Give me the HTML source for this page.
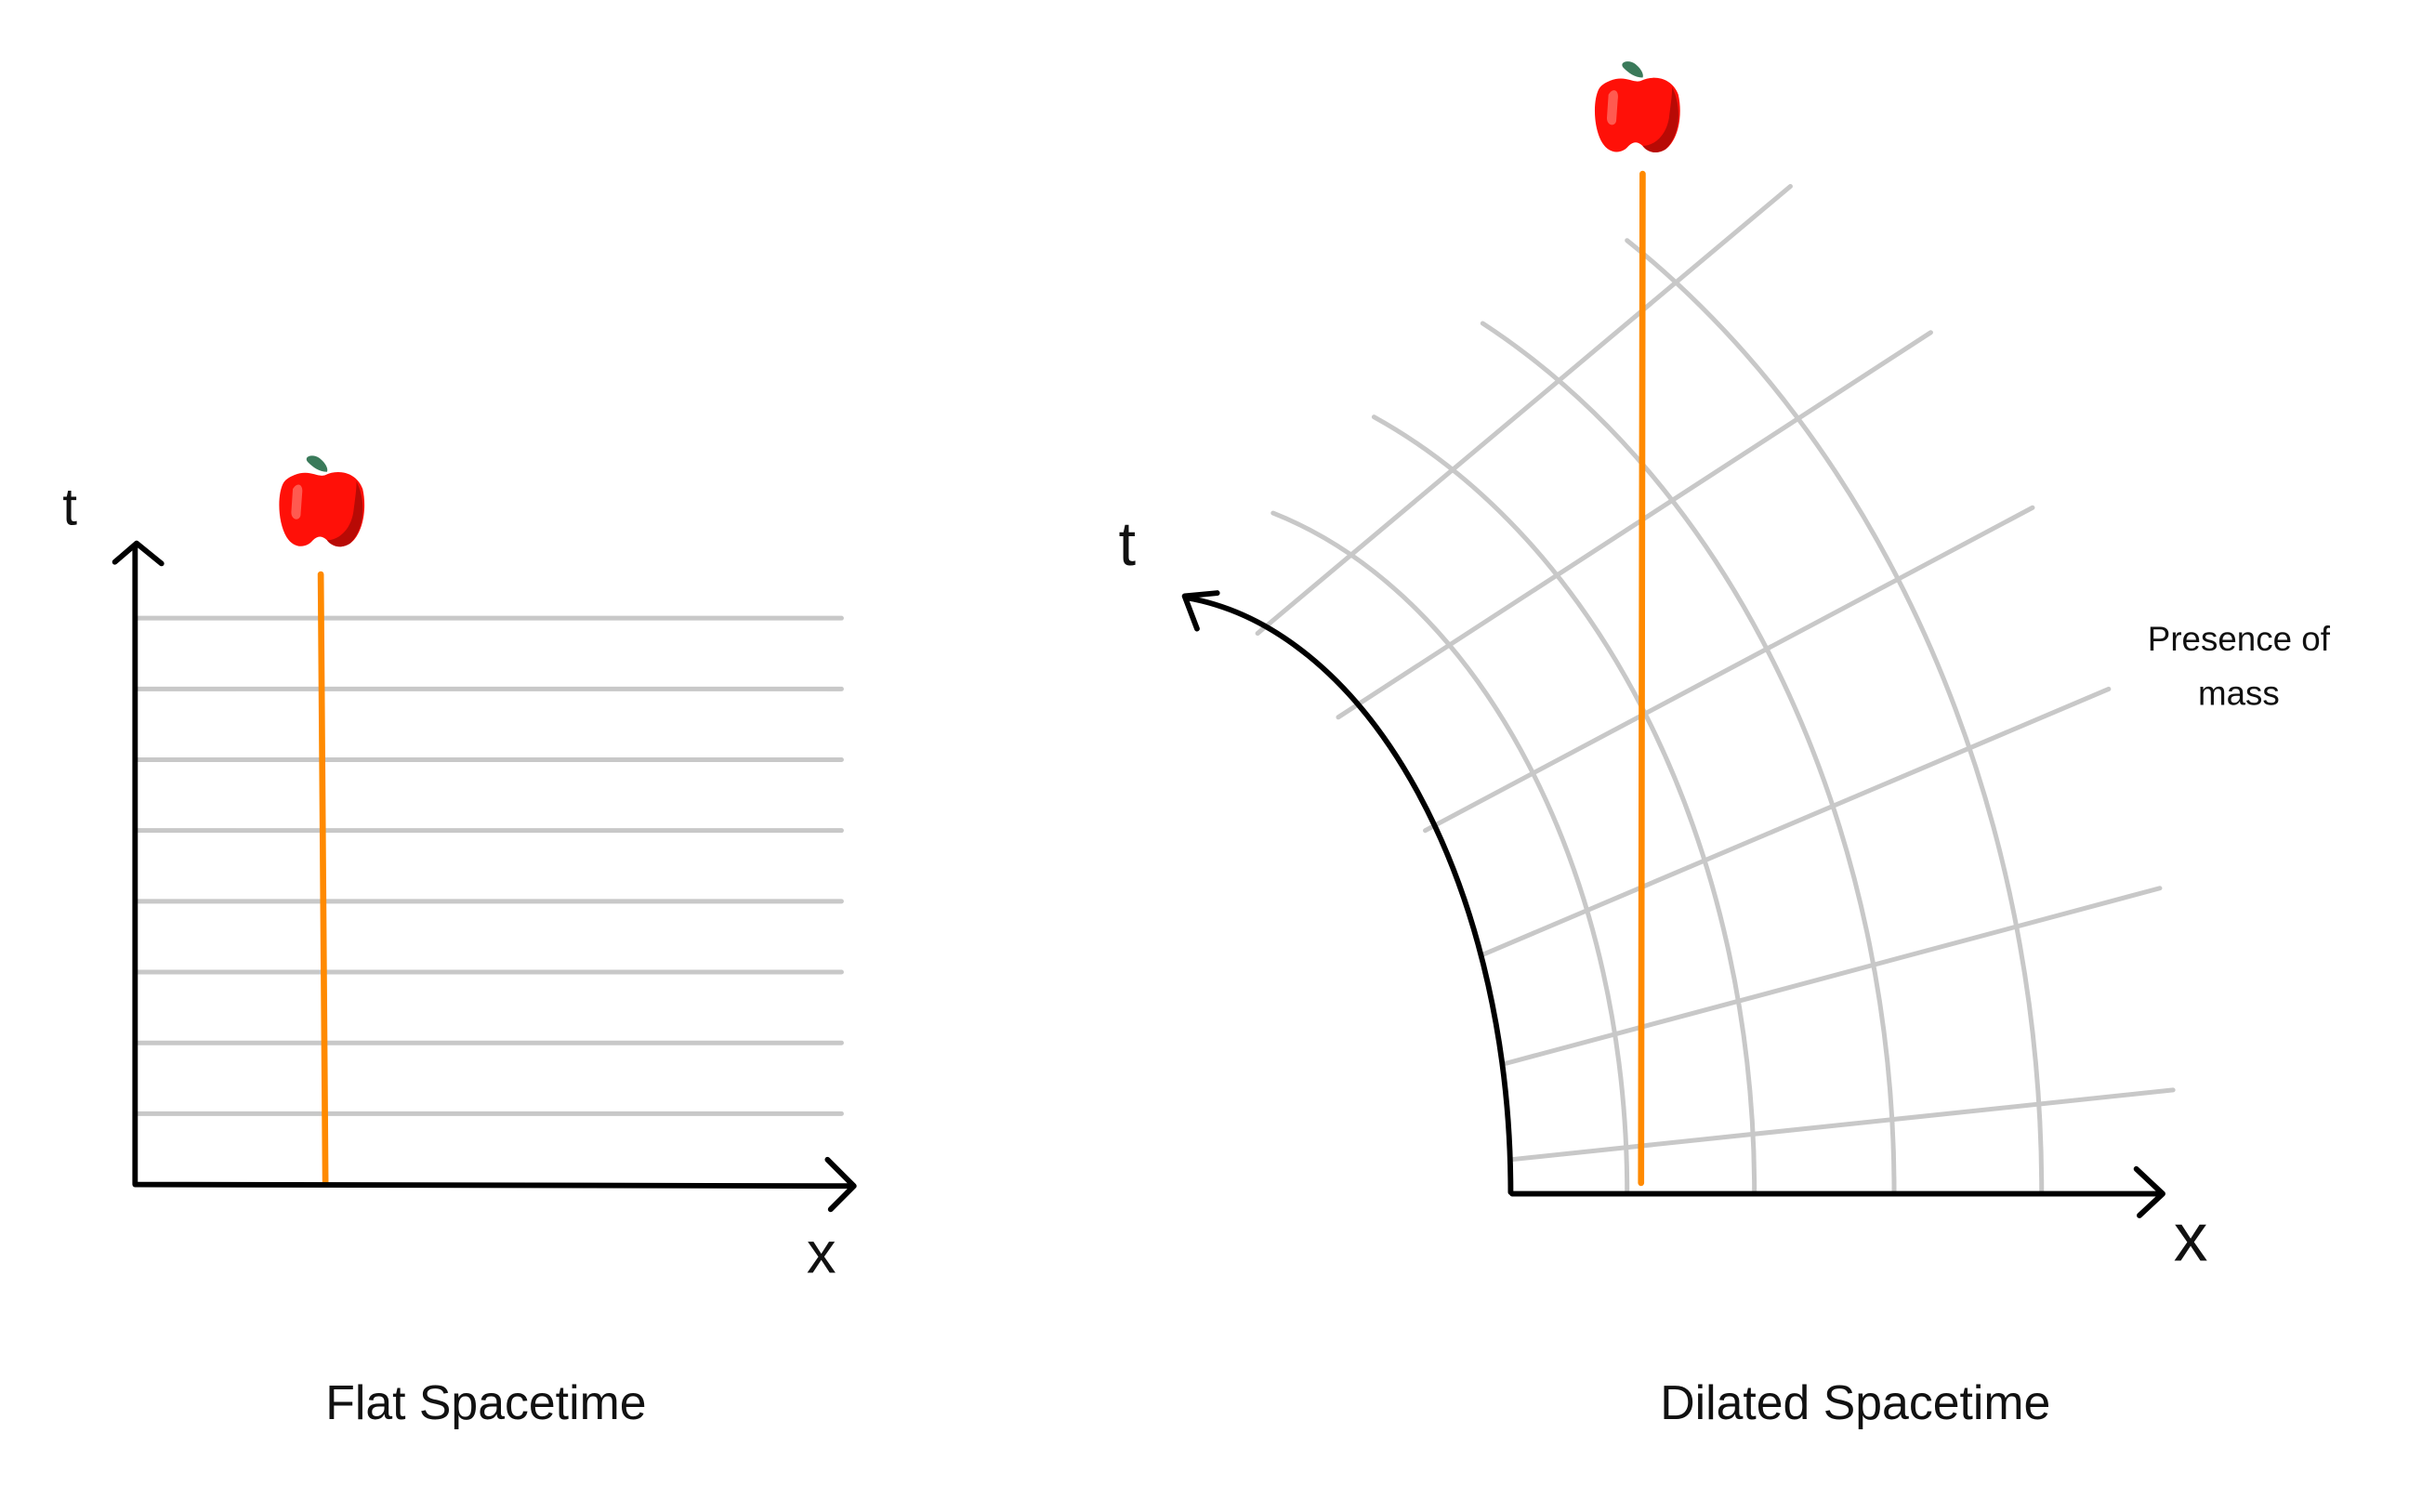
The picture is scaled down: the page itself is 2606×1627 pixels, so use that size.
<!DOCTYPE html>
<html><head><meta charset="utf-8"><style>
html,body{margin:0;padding:0;background:#fff;}
svg{display:block;}
text{font-family:"Liberation Sans",sans-serif;fill:#111;}
</style></head><body>
<svg id="fig" width="2606" height="1627" viewBox="0 0 1560 974" preserveAspectRatio="none" xmlns="http://www.w3.org/2000/svg">
<defs>
<g id="apple">
<path d="M-9,-32 C-13,-36 -6,-38 -2,-35 C2,-32 4,-28 3,-26 C-2,-26 -6,-29 -9,-32Z" fill="#3a7a5a"/>
<path d="M-18,-24 C-8,-28 -3,-22 2,-24 C10,-28 22,-26 26,-15 C29,-2 26,14 18,20 C12,24 6,22 3,18 C0,15 -3,15 -6,18 C-10,23 -18,24 -23,16 C-29,6 -29,-12 -25,-19 C-23,-22 -20,-23 -18,-24Z" fill="#ff1008"/>
<path d="M22,-20 C28,-8 28,10 18,20 C12,24 6,22 3,18 C10,18 18,12 20,0 C21,-8 22,-14 22,-20Z" fill="#b80a05"/>
<path d="M-19,-15 C-16,-20 -12,-18 -13,-12 L-14,2 C-15,6 -20,5 -20,0Z" fill="#ff5a50"/>
</g>
</defs>
<g id="left"></g>
<g id="right"></g>
</svg>
<script>
// Flat spacetime data
const flatTimes = [1, 2, 3, 4, 5, 6, 7, 8];
const flatAppleX = [2.6];
// Dilated spacetime data (elliptical time arcs: horizontal / vertical radii)
const arcRx = [308, 390, 480, 575];
const arcRy = [453, 538, 626, 726];
const arcTopX = [820, 885, 955, 1048];
const rayAngles = [40, 33, 28, 23, 15, 6];
const dilatedAppleX = [1];

const NS = 'http://www.w3.org/2000/svg';
function mk(tag, attrs, parent){
  const e = document.createElementNS(NS, tag);
  for (const k in attrs) e.setAttribute(k, attrs[k]);
  parent.appendChild(e);
  return e;
}
const L = document.getElementById('left');
const R = document.getElementById('right');

// ---- left panel scales
const lx = v => 87 + v * 46;
const ly = v => 763 - v * 45.6;
flatTimes.forEach(t => {
  const e = mk('line', {x1:87, x2:542, y1:ly(t), y2:ly(t), stroke:'#c8c8c8', 'stroke-width':3, 'stroke-linecap':'round'}, L);
  
  
});
let e;
e = mk('line', {x1:lx(flatAppleX[0]), y1:370, x2:lx(flatAppleX[0])+3, y2:762, stroke:'#ff8a00', 'stroke-width':4, 'stroke-linecap':'round'}, L);


e = mk('path', {d:'M87,763 L87,351 M74,362 L88,350 L104,363 M87,763 L550,764 M533,747 L550,764 L535,779', fill:'none', stroke:'#000', 'stroke-width':3.5, 'stroke-linecap':'round', 'stroke-linejoin':'round'}, L);


e = mk('use', {href:'#apple', transform:'translate('+(lx(flatAppleX[0])+1)+',330)'}, L);


e = mk('text', {x:45, y:338, 'font-size':34, 'text-anchor':'middle'}, L); e.textContent='t';


e = mk('text', {x:529, y:820, 'font-size':38, 'text-anchor':'middle'}, L); e.textContent='x';


e = mk('text', {x:313, y:914, 'font-size':31, 'text-anchor':'middle'}, L); e.textContent='Flat Spacetime';



// ---- right panel: curved grid (ellipses centred at cx, oy)
const ox = 973, oy = 768, cx = 740;
function ellArc(rx, ry, topX){
  const dx = (topX - cx) / rx;
  const topY = oy - ry * Math.sqrt(Math.max(0, 1 - dx*dx));
  return 'M'+(cx+rx)+','+oy+' A'+rx+','+ry+' 0 0 0 '+topX+','+topY.toFixed(1);
}
arcRx.forEach((rx, i) => {
  const p = mk('path', {d:ellArc(rx, arcRy[i], arcTopX[i]), fill:'none', stroke:'#c8c8c8', 'stroke-width':3, 'stroke-linecap':'round'}, R);
  
  
});
const rayStart = [[810,408],[862,462],[918,535],[955,615],[970,685],[973,747]];
const rayLen = [448, 455, 443, 438, 436, 429];
rayAngles.forEach((a, i) => {
  const [sx, sy] = rayStart[i];
  const rad = a * Math.PI / 180;
  const p = mk('line', {x1:sx, y1:sy, x2:sx + rayLen[i]*Math.cos(rad), y2:sy - rayLen[i]*Math.sin(rad), stroke:'#c8c8c8', 'stroke-width':3, 'stroke-linecap':'round'}, R);
  
  
});
// axes
e = mk('path', {d:ellArc(233, 385, 764), fill:'none', stroke:'#000', 'stroke-width':3.5, 'stroke-linecap':'round'}, R);


e = mk('path', {d:'M784,382 L763,384 L771,405 M974,769 L1393,769 M1376,753 L1393,769 L1378,783', fill:'none', stroke:'#000', 'stroke-width':3.5, 'stroke-linecap':'round', 'stroke-linejoin':'round'}, R);


const worldX = ox + dilatedAppleX[0]*85;
e = mk('line', {x1:worldX, y1:112, x2:worldX-1, y2:762, stroke:'#ff8a00', 'stroke-width':4, 'stroke-linecap':'round'}, R);


e = mk('use', {href:'#apple', transform:'translate('+(worldX-3)+',76)'}, R);


e = mk('text', {x:726, y:364, 'font-size':40, 'text-anchor':'middle'}, R); e.textContent='t';


e = mk('text', {x:1411, y:812, 'font-size':44, 'text-anchor':'middle'}, R); e.textContent='x';


e = mk('text', {x:1442, y:419, 'font-size':22, 'text-anchor':'middle'}, R); e.textContent='Presence of';


e = mk('text', {x:1442, y:454, 'font-size':22, 'text-anchor':'middle'}, R); e.textContent='mass';


e = mk('text', {x:1195, y:914, 'font-size':31, 'text-anchor':'middle'}, R); e.textContent='Dilated Spacetime';


</script>
</body></html>
